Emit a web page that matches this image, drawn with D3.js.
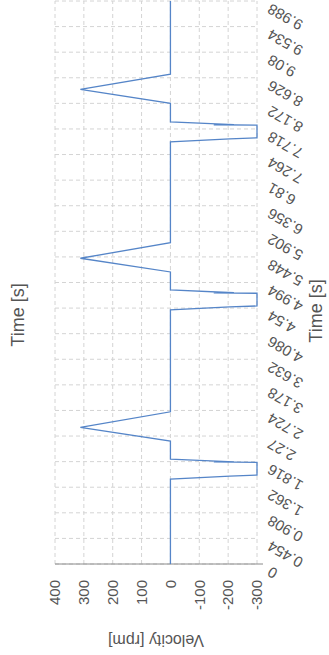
<!DOCTYPE html>
<html>
<head>
<meta charset="utf-8">
<script src="https://cdn.jsdelivr.net/npm/d3@7"></script>
<style>
  body { margin: 0; background: #fff; }
  text { font-family: "Liberation Sans", Arial, sans-serif; }
</style>
</head>
<body>
<div id="chart"></div>
<script>
// Velocity trace
const times = [
  0, 1.507, 1.560, 1.578, 1.803, 1.810, 1.812, 1.862, 2.181, 2.424, 2.700,
  4.507, 4.560, 4.578, 4.803, 4.810, 4.812, 4.862, 5.181, 5.424, 5.700,
  7.490, 7.543, 7.561, 7.786, 7.793, 7.795, 7.845, 8.171, 8.420, 8.690,
  9.988
];
const velocities = [
  0, 0, -206, -300, -300, -150, -220, 0, 0, 312, 0,
  0, -206, -300, -300, -150, -220, 0, 0, 312, 0,
  0, -206, -300, -300, -150, -220, 0, 0, 312, 0,
  0
];

const timeTicks = [0, 0.454, 0.908, 1.362, 1.816, 2.27, 2.724, 3.178, 3.632, 4.086,
  4.54, 4.994, 5.448, 5.902, 6.356, 6.81, 7.264, 7.718, 8.172, 8.626, 9.08, 9.534, 9.988];
const velocityTicks = [400, 300, 200, 100, 0, -100, -200, -300];

const data = times.map((t, i) => ({t: t, v: velocities[i]}));

// The chart is drawn landscape and then turned a quarter turn
const W = 655, H = 329;
const svg = d3.select("#chart").append("svg")
    .attr("width", H)
    .attr("height", W);

const g = svg.append("g")
    .attr("transform", `translate(0,${W}) rotate(-90)`);

const x = d3.scaleLinear().domain([0, 9.988]).range([91, 654]);
const y = d3.scaleLinear().domain([-300, 400]).range([257, 55]);

// grid
g.append("g").selectAll("line")
    .data(timeTicks)
    .enter().append("line")
      .attr("x1", d => x(d)).attr("x2", d => x(d))
      .attr("y1", y(400)).attr("y2", y(-300))
      .attr("stroke", "#d4d4d4")
      .attr("stroke-dasharray", "4,3");

g.append("g").selectAll("line")
    .data(velocityTicks)
    .enter().append("line")
      .attr("x1", x(0)).attr("x2", x(9.988))
      .attr("y1", d => y(d)).attr("y2", d => y(d))
      .attr("stroke", "#d4d4d4")
      .attr("stroke-dasharray", "4,3");

// left axis line
g.append("line")
    .attr("x1", x(0)).attr("x2", x(0))
    .attr("y1", y(400)).attr("y2", y(-300) + 6)
    .attr("stroke", "#8a8a8a");

// time axis
const xAxis = g.append("g")
    .attr("transform", `translate(0,${y(-300)})`)
    .call(d3.axisBottom(x).tickValues(timeTicks).tickSize(0)
        .tickFormat((d, i) => String(timeTicks[i])));
xAxis.select(".domain").remove();
xAxis.selectAll("text")
    .attr("y", 0).attr("x", 0)
    .attr("dy", "0.35em")
    .attr("text-anchor", "end")
    .attr("transform", "translate(-7,12) rotate(-60)")
    .attr("font-size", 15)
    .attr("fill", "#555");

// velocity axis
const yAxis = g.append("g")
    .attr("transform", `translate(${x(0)},0)`)
    .call(d3.axisLeft(y).tickValues(velocityTicks).tickSize(0).tickPadding(16)
        .tickFormat(d => String(d)));
yAxis.select(".domain").remove();
yAxis.selectAll("text")
    .attr("font-size", 15)
    .attr("fill", "#555");

// titles
g.append("text")
    .attr("x", 340)
    .attr("y", 24)
    .attr("text-anchor", "middle")
    .attr("font-size", 18)
    .attr("fill", "#555")
    .text("Time [s]");

g.append("text")
    .attr("x", 344)
    .attr("y", 322)
    .attr("text-anchor", "middle")
    .attr("font-size", 18)
    .attr("fill", "#555")
    .text("Time [s]");

g.append("text")
    .attr("transform", "rotate(-90)")
    .attr("x", -(y(400) + y(-300)) / 2)
    .attr("y", 20)
    .attr("text-anchor", "middle")
    .attr("font-size", 16)
    .attr("fill", "#555")
    .text("Velocity [rpm]");

// trace
const line = d3.line()
    .x(d => x(d.t))
    .y(d => y(d.v));

g.append("path")
    .datum(data)
    .attr("fill", "none")
    .attr("stroke", "#5585c8")
    .attr("stroke-width", 1.3)
    .attr("d", line);
</script>
</body>
</html>
